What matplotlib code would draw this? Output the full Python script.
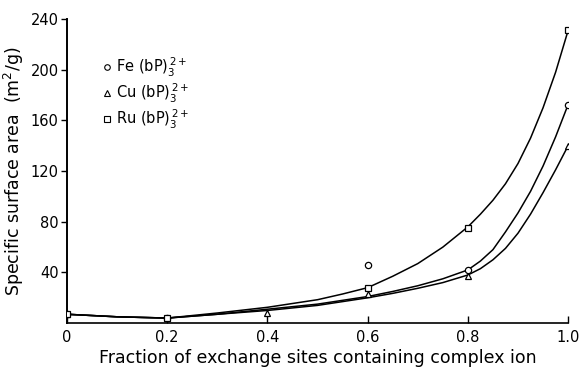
import matplotlib.pyplot as plt
from matplotlib.lines import Line2D

# measured points
fe_x = [0.0, 0.2, 0.6, 0.8, 1.0]
fe_y = [7, 4, 45.5, 42, 172.5]
cu_x = [0.0, 0.2, 0.4, 0.6, 0.8, 1.0]
cu_y = [7, 4, 8, 23, 37.5, 140]
ru_x = [0.0, 0.2, 0.6, 0.8, 1.0]
ru_y = [7, 4, 28, 75, 231]

# hand-drawn curves
curve_x = [0.0, 0.1, 0.2, 0.3, 0.4, 0.5, 0.55, 0.6, 0.65, 0.7, 0.75, 0.8,
           0.825, 0.85, 0.875, 0.9, 0.925, 0.95, 0.975, 1.0]
fe_curve = [7, 5, 4, 7, 11, 15, 18, 21, 25, 29.5, 35, 42,
            49, 58, 72, 87, 104, 124, 147, 172.5]
cu_curve = [7, 5, 4, 7, 10, 14, 17, 20, 23.5, 27.5, 32, 38,
            43, 50, 59, 71, 86, 103, 121, 140]
ru_curve = [7, 5, 4, 8, 12.5, 18.5, 23, 28, 37, 47, 60, 76,
            86, 97, 110, 126, 146, 170, 198, 231]

xticks = [0, 0.2, 0.4, 0.6, 0.8, 1.0]
xticklabels = ['0', '0.2', '0.4', '0.6', '0.8', '1.0']
yticks = [40, 80, 120, 160, 200, 240]

labels = [r'Fe (bP)$_3^{\,2+}$', r'Cu (bP)$_3^{\,2+}$', r'Ru (bP)$_3^{\,2+}$']

fig = plt.figure(figsize=(5.8, 3.74), dpi=100)
ax = fig.add_axes([0.1155, 0.136, 0.864, 0.813])

lw = 1.1
ax.plot(curve_x, fe_curve, color='black', lw=lw)
ax.plot(curve_x, cu_curve, color='black', lw=lw)
ax.plot(curve_x, ru_curve, color='black', lw=lw)

ax.plot(fe_x, fe_y, 'o', mfc='white', mec='black', ms=4.5, mew=0.9, zorder=3)
ax.plot(cu_x, cu_y, '^', mfc='white', mec='black', ms=5, mew=0.9, zorder=3)
ax.plot(ru_x, ru_y, 's', mfc='white', mec='black', ms=5, mew=0.9, zorder=3)

ax.set_xlim(0, 1.0)
ax.set_ylim(0, 240)
ax.set_xticks(xticks)
ax.set_xticklabels(xticklabels)
ax.set_yticks(yticks)
ax.tick_params(axis='x', direction='in', length=5, width=1, labelsize=10.5, pad=5)
ax.tick_params(axis='y', direction='out', length=4, width=1, labelsize=10.5, pad=2)
for s in ['top', 'right']:
    ax.spines[s].set_visible(False)
ax.spines['left'].set_linewidth(1.4)
ax.spines['bottom'].set_linewidth(1.2)

ax.set_xlabel('Fraction of exchange sites containing complex ion', fontsize=12.5, labelpad=3)
ax.set_ylabel(r'Specific surface area  (m$^2$/g)', fontsize=12.5, labelpad=3)

handles = [
    Line2D([], [], marker='o', ls='none', mfc='white', mec='black', ms=4, mew=0.8),
    Line2D([], [], marker='^', ls='none', mfc='white', mec='black', ms=4.5, mew=0.8),
    Line2D([], [], marker='s', ls='none', mfc='white', mec='black', ms=4.5, mew=0.8),
]
ax.legend(handles, labels, loc='upper left', bbox_to_anchor=(0.06, 0.9),
          frameon=False, fontsize=10.5, handlelength=0.6, handletextpad=0.3,
          labelspacing=0.2, borderaxespad=0)

fig.savefig('out.png', dpi=100)
